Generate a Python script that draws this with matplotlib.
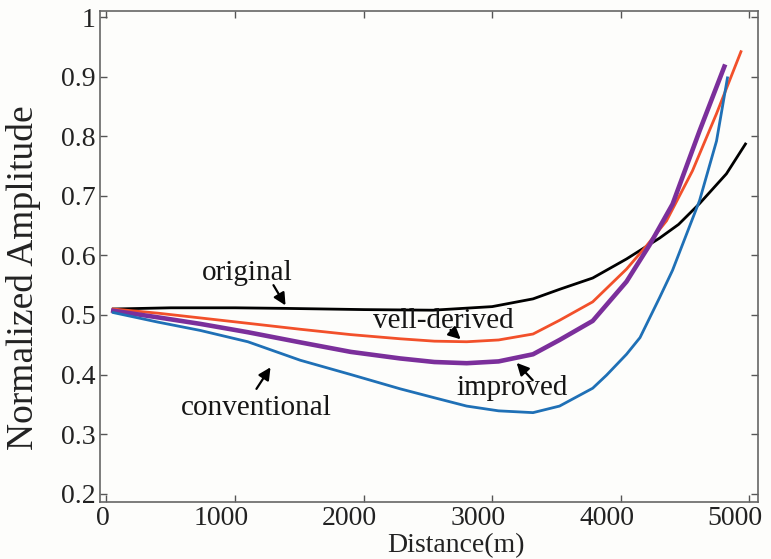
import matplotlib
matplotlib.use("Agg")
import matplotlib.pyplot as plt
from matplotlib.transforms import ScaledTranslation

# values
x_original = [53, 500, 1000, 1400, 2000, 2540, 3000, 3318, 3524, 3782, 4045, 4302, 4450, 4613, 4822, 4970]
y_original = [0.510, 0.512, 0.512, 0.511, 0.509, 0.508, 0.514, 0.527, 0.543, 0.562, 0.594, 0.629,
              0.652, 0.687, 0.737, 0.787]

x_well = [53, 400, 730, 1100, 1507, 1900, 2284, 2550, 2802, 3050, 3318, 3524, 3782, 4045, 4200,
          4356, 4558, 4745, 4935]
y_well = [0.510, 0.503, 0.495, 0.486, 0.476, 0.467, 0.460, 0.456, 0.455, 0.458, 0.468, 0.491,
          0.522, 0.577, 0.616, 0.658, 0.742, 0.838, 0.942]

x_improved = [53, 400, 730, 1100, 1507, 1900, 2284, 2550, 2802, 3050, 3318, 3524, 3782, 4045,
              4223, 4403, 4613, 4806]
y_improved = [0.507, 0.496, 0.485, 0.471, 0.454, 0.438, 0.427, 0.421, 0.419, 0.422, 0.434, 0.458,
              0.490, 0.556, 0.617, 0.686, 0.809, 0.917]

x_conv = [53, 400, 730, 1100, 1507, 1900, 2284, 2550, 2802, 3050, 3318, 3524, 3782, 3890, 4045,
          4150, 4302, 4403, 4613, 4745, 4830]
y_conv = [0.504, 0.488, 0.474, 0.455, 0.424, 0.400, 0.376, 0.361, 0.347, 0.339, 0.336, 0.347,
          0.377, 0.399, 0.434, 0.462, 0.529, 0.575, 0.692, 0.792, 0.898]

x_ticks = [0, 1000, 2000, 3000, 4000, 5000]
x_ticklabels = ["0", "1000", "2000", "3000", "4000", "5000"]
y_ticks = [0.2, 0.3, 0.4, 0.5, 0.6, 0.7, 0.8, 0.9, 1.0]
y_ticklabels = ["0.2", "0.3", "0.4", "0.5", "0.6", "0.7", "0.8", "0.9", "1"]

plt.rcParams["font.family"] = ["Liberation Serif", "DejaVu Serif"]

fig = plt.figure(figsize=(7.71, 5.59), dpi=100, facecolor="#fdfdfb")
ax = fig.add_axes([0.1297, 0.102, 0.853, 0.878])
ax.set_facecolor("#fdfdfb")

ax.plot(x_original, y_original, color="black", lw=2.0)
ax.plot(x_well, y_well, color="#f2502a", lw=2.0)
ax.plot(x_improved, y_improved, color="#7b2f9b", lw=3.3)
ax.plot(x_conv, y_conv, color="#1f70b6", lw=2.0)

arrow = dict(arrowstyle="-|>", color="black", lw=1.6, mutation_scale=18)
txt = dict(fontsize=21, ha="center", va="center", color="#151515")
ax.text(1092, 0.571, "original", **txt)
ax.annotate("", xy=(1404, 0.512), xytext=(1288, 0.554), arrowprops=arrow)
ax.text(2617, 0.490, "vell-derived", **txt)
ax.annotate("", xy=(2771, 0.456), xytext=(2660, 0.478), arrowprops=arrow)
ax.text(3153, 0.378, "improved", **txt)
ax.annotate("", xy=(3176, 0.423), xytext=(3330, 0.387), arrowprops=arrow)
ax.text(1165, 0.344, "conventional", **txt)
ax.annotate("", xy=(1288, 0.416), xytext=(1155, 0.372), arrowprops=arrow)

ax.set_xlim(-50, 5065)
ax.set_ylim(0.186, 1.01)
ax.set_xticks(x_ticks)
ax.set_xticklabels(x_ticklabels)
ax.set_yticks(y_ticks)
ax.set_yticklabels(y_ticklabels)
ax.tick_params(direction="in", length=5, width=1, colors="#555555",
               labelcolor="#222222", labelsize=20, top=True, right=True)
ax.tick_params(axis="x", pad=3)
for s in ax.spines.values():
    s.set_color("#666666")
    s.set_linewidth(1.2)

ax.set_xlabel("Distance(m)", fontsize=20, color="#222222")
ax.xaxis.set_label_coords(0.541, -0.064)
ax.set_ylabel("Normalized Amplitude", fontsize=27, color="#222222")
ax.yaxis.set_label_coords(-0.089, 0.456)

# x tick labels sit a little left of their ticks in the reference
fig.canvas.draw()
for tick in ax.xaxis.get_major_ticks():
    lab = tick.label1
    dx = -4 if lab.get_text() == "0" else -14
    lab.set_transform(lab.get_transform() + ScaledTranslation(dx / 100, 0, fig.dpi_scale_trans))

fig.savefig("out.png", dpi=100, facecolor=fig.get_facecolor())
